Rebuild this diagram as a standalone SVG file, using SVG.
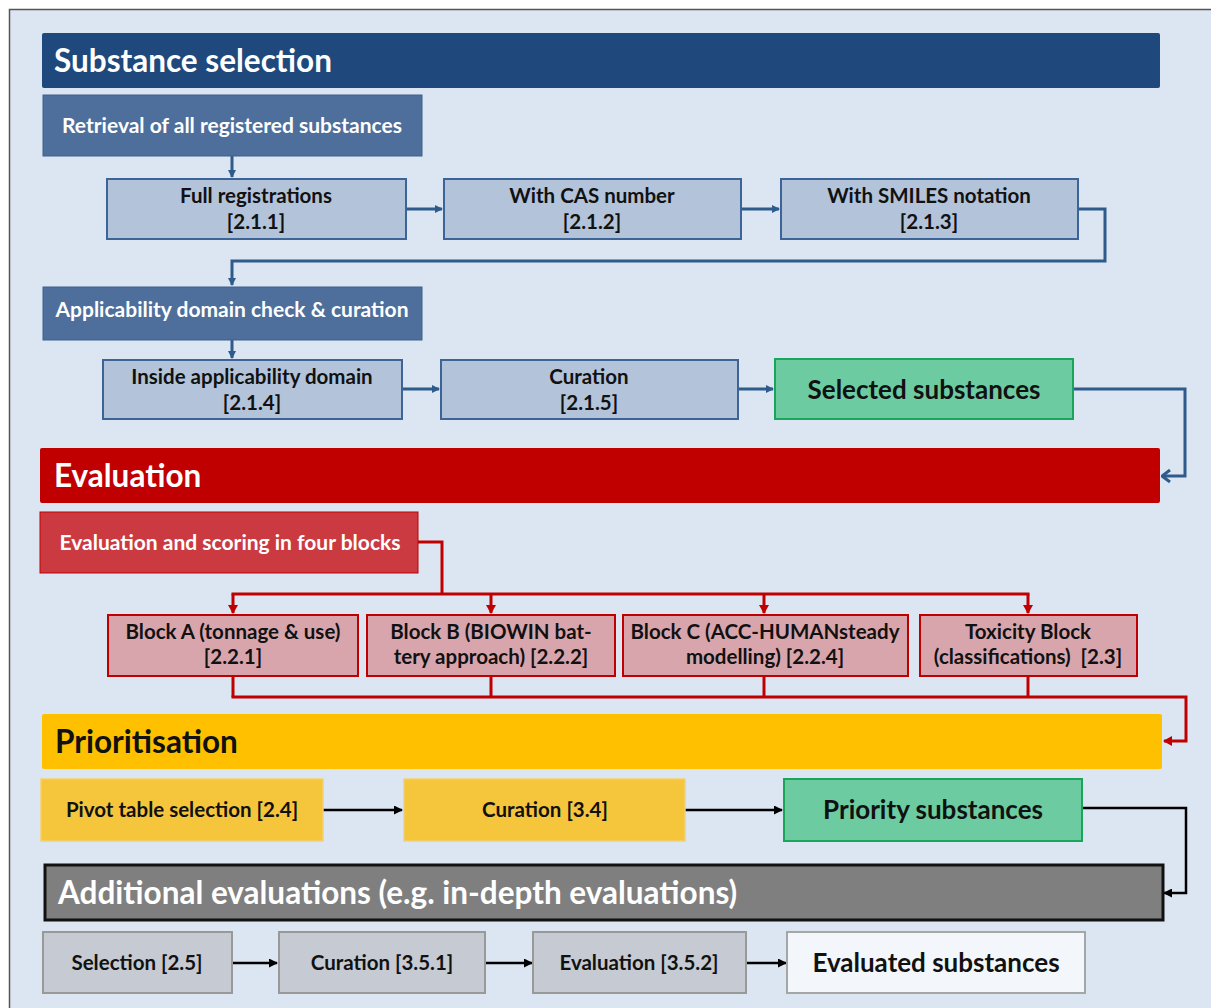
<svg xmlns="http://www.w3.org/2000/svg" width="1211" height="1008" viewBox="0 0 1211 1008">
<defs>
<style>
text{font-family:Lato,"Open Sans","Liberation Sans",sans-serif;font-weight:bold;text-anchor:middle}
.hdr{font-size:31.5px;fill:#fff;text-anchor:start}
.wt{font-size:21px;fill:#fff}
.bt{font-size:20.5px;fill:#111}
.big{font-size:26px;fill:#111}
.lb{fill:#b3c3da;stroke:#3d6496;stroke-width:2}
.gr{fill:#6ccba0;stroke:#1aa55a;stroke-width:2}
.pk{fill:#d9a5ad;stroke:#c00000;stroke-width:2}
.yl{fill:#f5c63b;stroke:#f3d070;stroke-width:1.5}
.gy{fill:#c5cad3;stroke:#999;stroke-width:2}
.cb{fill:none;stroke:#2e5a8c;stroke-width:3}
.cr{fill:none;stroke:#c00000;stroke-width:3}
.ck{fill:none;stroke:#000;stroke-width:2.5}
</style>
<marker id="ab" markerWidth="8" markerHeight="8" refX="7" refY="4" orient="auto" markerUnits="userSpaceOnUse"><path d="M0,0 L8,4 L0,8 Z" fill="#2e5a8c"/></marker>
<marker id="abo" markerWidth="10" markerHeight="14" refX="9" refY="7" orient="auto" markerUnits="userSpaceOnUse"><path d="M1,1 L9,7 L1,13" fill="none" stroke="#2e5a8c" stroke-width="3"/></marker>
<marker id="ar" markerWidth="9" markerHeight="10" refX="8" refY="5" orient="auto" markerUnits="userSpaceOnUse"><path d="M0,0 L9,5 L0,10 Z" fill="#c00000"/></marker>
<marker id="ak" markerWidth="9" markerHeight="9" refX="8" refY="4.5" orient="auto" markerUnits="userSpaceOnUse"><path d="M0,0 L9,4.5 L0,9 Z" fill="#000"/></marker>
</defs>
<rect x="0" y="0" width="1211" height="1008" fill="#fff"/>
<rect x="9.5" y="9.5" width="1210" height="1010" fill="#dce6f2" stroke="#555" stroke-width="1.5"/>

<g id="connectors">
<line class="cb" x1="232" y1="156" x2="232" y2="177" marker-end="url(#ab)"/>
<line class="cb" x1="406" y1="209" x2="442" y2="209" marker-end="url(#ab)"/>
<line class="cb" x1="741" y1="209" x2="779" y2="209" marker-end="url(#ab)"/>
<polyline class="cb" points="1078,209 1105,209 1105,261 232,261 232,285" marker-end="url(#ab)"/>
<line class="cb" x1="232" y1="340" x2="232" y2="358" marker-end="url(#ab)"/>
<line class="cb" x1="402" y1="389" x2="439" y2="389" marker-end="url(#ab)"/>
<line class="cb" x1="738" y1="389" x2="773" y2="389" marker-end="url(#ab)"/>
<polyline class="cb" points="1073,389 1185,389 1185,476 1162,476" marker-end="url(#abo)"/>

<polyline class="cr" points="418,542 442,542 442,594"/>
<line class="cr" x1="231.5" y1="594" x2="1029.5" y2="594"/>
<line class="cr" x1="233" y1="594" x2="233" y2="613" marker-end="url(#ar)"/>
<line class="cr" x1="491" y1="594" x2="491" y2="613" marker-end="url(#ar)"/>
<line class="cr" x1="764" y1="594" x2="764" y2="613" marker-end="url(#ar)"/>
<line class="cr" x1="1028" y1="594" x2="1028" y2="613" marker-end="url(#ar)"/>
<line class="cr" x1="233" y1="676" x2="233" y2="697"/>
<line class="cr" x1="491" y1="676" x2="491" y2="697"/>
<line class="cr" x1="764" y1="676" x2="764" y2="697"/>
<line class="cr" x1="1028" y1="676" x2="1028" y2="697"/>
<polyline class="cr" points="231.5,697 1186,697 1186,741 1164,741" marker-end="url(#ar)"/>

<line class="ck" x1="323" y1="810" x2="402" y2="810" marker-end="url(#ak)"/>
<line class="ck" x1="685" y1="810" x2="782" y2="810" marker-end="url(#ak)"/>
<polyline class="ck" points="1082,808 1186,808 1186,893 1164,893" marker-end="url(#ak)"/>
<line class="ck" x1="232" y1="963" x2="277" y2="963" marker-end="url(#ak)"/>
<line class="ck" x1="485" y1="963" x2="532" y2="963" marker-end="url(#ak)"/>
<line class="ck" x1="746" y1="963" x2="786" y2="963" marker-end="url(#ak)"/>
</g>

<g id="substance-selection">
<rect x="42" y="33" width="1118" height="55" fill="#1f497d" rx="2"/>
<text class="hdr" x="54" y="72">Substance selection</text>
</g>
<g id="retrieval">
<rect x="43" y="95" width="379" height="61" fill="#4e6f9b" stroke="#3f5f8c" stroke-width="1"/>
<text class="wt" x="232" y="133">Retrieval of all registered substances</text>
</g>
<g id="full-registrations">
<rect class="lb" x="107" y="179" width="299" height="60"/>
<text class="bt" x="256" y="203">Full registrations</text>
<text class="bt" x="256" y="229">[2.1.1]</text>
</g>
<g id="cas">
<rect class="lb" x="444" y="179" width="297" height="60"/>
<text class="bt" x="592" y="203">With CAS number</text>
<text class="bt" x="592" y="229">[2.1.2]</text>
</g>
<g id="smiles">
<rect class="lb" x="781" y="179" width="297" height="60"/>
<text class="bt" x="929" y="203">With SMILES notation</text>
<text class="bt" x="929" y="229">[2.1.3]</text>
</g>
<g id="applicability">
<rect x="43" y="287" width="379" height="53" fill="#4e6f9b" stroke="#3f5f8c" stroke-width="1"/>
<text class="wt" x="232" y="317">Applicability domain check &amp; curation</text>
</g>
<g id="inside-ad">
<rect class="lb" x="103" y="360" width="299" height="59"/>
<text class="bt" x="252" y="384">Inside applicability domain</text>
<text class="bt" x="252" y="410">[2.1.4]</text>
</g>
<g id="curation-215">
<rect class="lb" x="441" y="360" width="297" height="59"/>
<text class="bt" x="589" y="384">Curation</text>
<text class="bt" x="589" y="410">[2.1.5]</text>
</g>
<g id="selected-substances">
<rect class="gr" x="775" y="359" width="298" height="60"/>
<text class="big" x="924" y="399">Selected substances</text>
</g>

<g id="evaluation">
<rect x="40" y="448" width="1120" height="55" fill="#c00000" rx="2"/>
<text class="hdr" x="54" y="487">Evaluation</text>
</g>
<g id="eval-scoring">
<rect x="40" y="512" width="378" height="61" fill="#cc3a41" stroke="#c00000" stroke-width="1"/>
<text class="wt" x="230" y="550">Evaluation and scoring in four blocks</text>
</g>
<g id="block-a">
<rect class="pk" x="108" y="615" width="250" height="61"/>
<text class="bt" x="233" y="639">Block A (tonnage &amp; use)</text>
<text class="bt" x="233" y="664">[2.2.1]</text>
</g>
<g id="block-b">
<rect class="pk" x="367" y="615" width="248" height="61"/>
<text class="bt" x="491" y="639">Block B (BIOWIN bat-</text>
<text class="bt" x="491" y="664">tery approach) [2.2.2]</text>
</g>
<g id="block-c">
<rect class="pk" x="623" y="615" width="285" height="61"/>
<text class="bt" x="765" y="639">Block C (ACC-HUMANsteady</text>
<text class="bt" x="765" y="664">modelling) [2.2.4]</text>
</g>
<g id="toxicity">
<rect class="pk" x="920" y="615" width="217" height="61"/>
<text class="bt" x="1028" y="639">Toxicity Block</text>
<text class="bt" x="1028" y="664" xml:space="preserve">(classifications)  [2.3]</text>
</g>

<g id="prioritisation">
<rect x="42" y="714" width="1120" height="55" fill="#ffc000" rx="2"/>
<text class="hdr" x="55" y="753" style="fill:#111">Prioritisation</text>
</g>
<g id="pivot">
<rect class="yl" x="41" y="779" width="282" height="62"/>
<text class="bt" x="182" y="817">Pivot table selection [2.4]</text>
</g>
<g id="curation-34">
<rect class="yl" x="404" y="779" width="281" height="62"/>
<text class="bt" x="545" y="817">Curation [3.4]</text>
</g>
<g id="priority-substances">
<rect class="gr" x="784" y="779" width="298" height="62"/>
<text class="big" x="933" y="819">Priority substances</text>
</g>

<g id="additional">
<rect x="45" y="865" width="1118" height="55" fill="#7f7f7f" stroke="#111" stroke-width="3"/>
<text class="hdr" x="58" y="904">Additional evaluations (e.g. in-depth evaluations)</text>
</g>
<g id="selection-25">
<rect class="gy" x="43" y="932" width="189" height="61"/>
<text class="bt" x="137" y="970">Selection [2.5]</text>
</g>
<g id="curation-351">
<rect class="gy" x="279" y="932" width="206" height="61"/>
<text class="bt" x="382" y="970">Curation [3.5.1]</text>
</g>
<g id="evaluation-352">
<rect class="gy" x="533" y="932" width="213" height="61"/>
<text class="bt" x="639" y="970">Evaluation [3.5.2]</text>
</g>
<g id="evaluated-substances">
<rect x="787" y="932" width="298" height="61" fill="#f3f6fb" stroke="#a6a6a6" stroke-width="2"/>
<text class="big" x="936" y="972">Evaluated substances</text>
</g>
</svg>
